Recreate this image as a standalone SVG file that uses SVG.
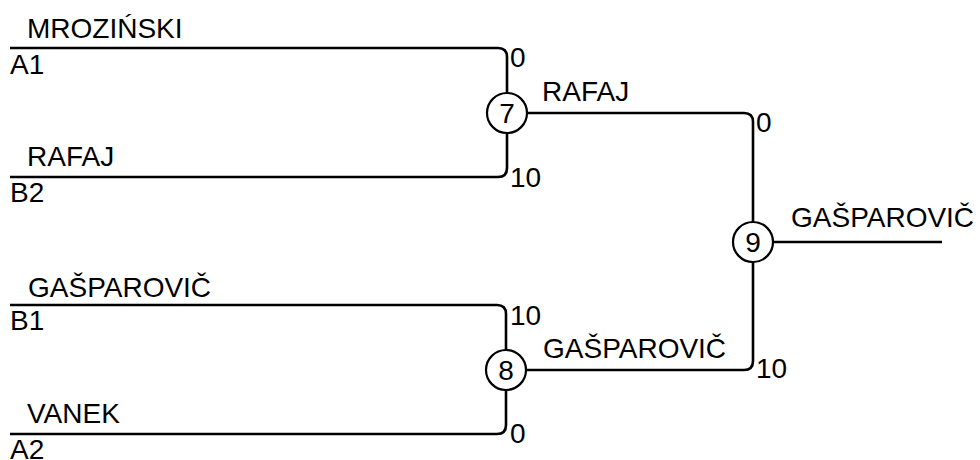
<svg xmlns="http://www.w3.org/2000/svg" width="980" height="460" viewBox="0 0 980 460">
<style>
.ln{fill:none;stroke:#000;stroke-width:2.6}
.nd{fill:#fff;stroke:#000;stroke-width:2.2}
text{font-family:"Liberation Sans",Arial,sans-serif;font-size:28px;fill:#000}
.c{text-anchor:middle}
</style>
<rect width="980" height="460" fill="#fff"/>
<g id="connectors">
<path class="ln" d="M10 48 H498 Q507 48 507 57 V93"/>
<path class="ln" d="M507 133 V168 Q507 177 498 177 H10"/>
<path class="ln" d="M10 305 H497 Q506 305 506 314 V350"/>
<path class="ln" d="M506 390 V425 Q506 434 497 434 H10"/>
<path class="ln" d="M527 113 H744 Q753 113 753 122 V222"/>
<path class="ln" d="M526 370 H744 Q753 370 753 361 V262"/>
<path class="ln" d="M773 242 H942"/>
</g>
<g id="labels">
<text x="27" y="38">MROZIŃSKI</text>
<text x="10" y="74">A1</text>
<text x="27" y="166">RAFAJ</text>
<text x="10" y="202">B2</text>
<text x="28" y="297">GAŠPAROVIČ</text>
<text x="10" y="330">B1</text>
<text x="27" y="423">VANEK</text>
<text x="10" y="459">A2</text>
<text x="510" y="67">0</text>
<text x="510" y="187">10</text>
<text x="510" y="325">10</text>
<text x="510" y="443">0</text>
<text x="542" y="101">RAFAJ</text>
<text x="543" y="358">GAŠPAROVIČ</text>
<text x="756" y="132">0</text>
<text x="756" y="378">10</text>
<text x="791" y="227">GAŠPAROVIČ</text>
</g>
<g id="n7"><circle class="nd" cx="507" cy="113" r="20"/><text class="c" x="507" y="123">7</text></g>
<g id="n8"><circle class="nd" cx="506" cy="370" r="20"/><text class="c" x="506" y="380">8</text></g>
<g id="n9"><circle class="nd" cx="753" cy="242" r="20"/><text class="c" x="753" y="252">9</text></g>
</svg>
